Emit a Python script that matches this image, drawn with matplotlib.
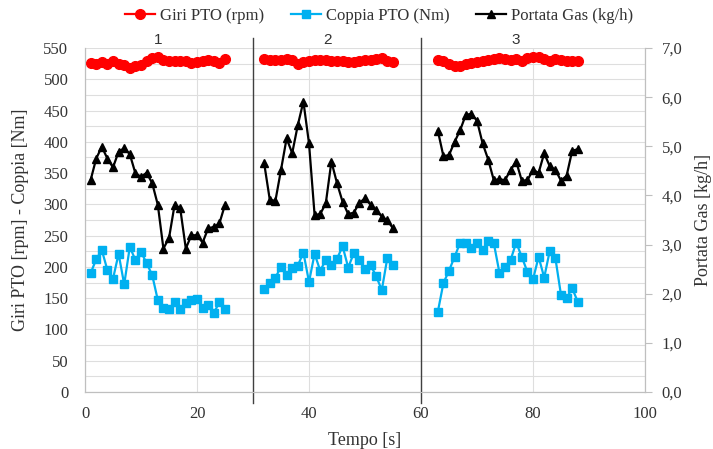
import matplotlib
matplotlib.use("Agg")
import matplotlib.pyplot as plt
from matplotlib.ticker import MultipleLocator, FuncFormatter
from matplotlib.lines import Line2D

# ---------------- data ----------------
time_1 = [1, 2, 3, 4, 5, 6, 7, 8, 9, 10, 11, 12, 13, 14, 15, 16, 17, 18, 19, 20, 21, 22, 23, 24, 25]
time_2 = [32, 33, 34, 35, 36, 37, 38, 39, 40, 41, 42, 43, 44, 45, 46, 47, 48, 49, 50, 51, 52, 53, 54, 55]
time_3 = [63, 64, 65, 66, 67, 68, 69, 70, 71, 72, 73, 74, 75, 76, 77, 78, 79, 80, 81, 82, 83, 84, 85, 86, 87, 88]

giri_1 = [526, 525, 527.5, 525, 529.5, 525, 523, 518, 520.5, 523, 529.5, 534, 535, 531, 529.5,
          529.5, 529.5, 528.5, 526, 527.5, 529.5, 531, 529.5, 526, 533]
giri_2 = [533, 531, 530.5, 531, 533, 531, 524, 527.5, 530, 531, 531, 531, 529.5, 528.5, 528.5,
          527.5, 527.5, 529.5, 531, 531, 533, 534, 529.5, 527.5]
giri_3 = [531, 528.5, 524, 521.5, 522, 524, 526, 527.5, 529.5, 530.5, 533, 534, 532, 531, 533,
          528.5, 534, 535, 535, 533, 528.5, 533, 531, 530, 529.5, 528.5]

coppia_1 = [190, 212, 227, 195, 181, 221, 172, 232, 211, 224, 206, 187, 147, 134, 132, 144, 132,
            143, 147, 148, 134, 139, 126, 144, 132]
coppia_2 = [164, 175, 183, 200, 187, 198, 202, 223, 176, 221, 194, 211, 203, 213, 233, 199, 222,
            211, 196, 203, 185, 163, 215, 203]
coppia_3 = [128, 174, 194, 216, 239, 238, 231, 239, 227, 242, 238, 191, 200, 211, 239, 216, 192,
            180, 216, 183, 226, 214, 155, 150, 166, 144]

gas_1 = [4.31, 4.75, 4.99, 4.75, 4.57, 4.89, 4.96, 4.84, 4.45, 4.38, 4.46, 4.25, 3.81, 2.92, 3.13,
         3.81, 3.74, 2.92, 3.19, 3.19, 3.04, 3.33, 3.36, 3.43, 3.81]
gas_2 = [4.65, 3.91, 3.89, 4.52, 5.16, 4.86, 5.43, 5.91, 5.06, 3.60, 3.62, 3.84, 4.69, 4.25, 3.87,
         3.62, 3.65, 3.85, 3.94, 3.81, 3.70, 3.57, 3.49, 3.33]
gas_3 = [5.32, 4.80, 4.82, 5.09, 5.33, 5.64, 5.66, 5.52, 5.06, 4.73, 4.31, 4.33, 4.31, 4.52, 4.69,
         4.30, 4.31, 4.52, 4.46, 4.86, 4.59, 4.52, 4.30, 4.40, 4.91, 4.94]

series_names = ["Giri PTO (rpm)", "Coppia PTO (Nm)", "Portata Gas (kg/h)"]
section_labels = ["1", "2", "3"]
section_label_x = [13, 43.3, 77]
separator_x = [30, 60]

x_ticks = [0, 20, 40, 60, 80, 100]
left_ticks = [0, 50, 100, 150, 200, 250, 300, 350, 400, 450, 500, 550]
right_ticks = [0, 1, 2, 3, 4, 5, 6, 7]

# ---------------- style ----------------
SERIF = ["Liberation Serif", "DejaVu Serif"]
plt.rcParams["font.family"] = SERIF
RED = "#FF0000"
BLUE = "#00B0F0"
BLACK = "#000000"
GRID = "#DEDEDE"
AXIS = "#BFBFBF"
TEXT = "#333333"

fig = plt.figure(figsize=(7.13, 4.49), dpi=100)
ax = fig.add_axes([85 / 713, 1 - 392 / 449, (645 - 85) / 713, (392 - 48) / 449])
ax2 = ax.twinx()

ax.set_xlim(0, 100)
ax.set_ylim(0, 550)
ax2.set_ylim(0, 7)

ax.set_xticks(x_ticks)
ax.set_yticks(left_ticks)
ax.yaxis.set_minor_locator(MultipleLocator(25))
ax2.set_yticks(right_ticks)
ax2.yaxis.set_major_formatter(FuncFormatter(lambda v, p: f"{v:.1f}".replace(".", ",")))

ax.grid(True, which="major", axis="x", color=GRID, lw=0.8)
ax.grid(True, which="both", axis="y", color=GRID, lw=0.8)
ax.set_axisbelow(True)

for a in (ax, ax2):
    a.spines["top"].set_visible(False)
    a.spines["left"].set_color(AXIS)
    a.spines["bottom"].set_color(AXIS)
    a.spines["right"].set_color(AXIS)

ax.tick_params(axis="both", which="both", length=0, labelsize=12, colors=TEXT)
ax.tick_params(axis="y", pad=12)
ax.tick_params(axis="x", pad=10)
ax2.tick_params(axis="y", length=5, width=0.8, color=AXIS, labelsize=12, pad=7, labelcolor=TEXT)

lw = 1.6
for t, v in ((time_1, coppia_1), (time_2, coppia_2), (time_3, coppia_3)):
    ax.plot(t, v, color=BLUE, lw=lw, marker="s", ms=5.4, mec=BLUE, mfc=BLUE, zorder=3)
for t, v in ((time_1, giri_1), (time_2, giri_2), (time_3, giri_3)):
    ax.plot(t, v, color=RED, lw=lw, marker="o", ms=7, mec=RED, mfc=RED, zorder=3)
for t, v in ((time_1, gas_1), (time_2, gas_2), (time_3, gas_3)):
    ax2.plot(t, v, color=BLACK, lw=lw, marker="^", ms=5.8, mec=BLACK, mfc=BLACK, zorder=3)

for xs in separator_x:
    ax.axvline(xs, ymin=-0.032, ymax=1.03, color="#404040", lw=1.0, clip_on=False, zorder=4)

for lab, xl in zip(section_labels, section_label_x):
    ax.text(xl, 1.022, lab, transform=ax.get_xaxis_transform(), ha="center", va="center",
            fontsize=11, family=["Liberation Sans", "DejaVu Sans"], color=TEXT)

ax.set_xlabel("Tempo [s]", fontsize=13, color=TEXT, labelpad=7)
ax.set_ylabel("Giri PTO [rpm] - Coppia [Nm]", fontsize=13, color=TEXT, labelpad=10)
ax2.set_ylabel("Portata Gas [kg/h]", fontsize=13, color=TEXT, labelpad=9)

handles = [
    Line2D([], [], color=RED, lw=lw, marker="o", ms=7),
    Line2D([], [], color=BLUE, lw=lw, marker="s", ms=5.4),
    Line2D([], [], color=BLACK, lw=lw, marker="^", ms=5.8),
]
fig.legend(handles, series_names, loc="center", bbox_to_anchor=(379 / 713, 1 - 16 / 449), ncol=3,
           frameon=False, fontsize=12, handlelength=1.8, handletextpad=0.3, columnspacing=1.6,
           labelcolor=TEXT)

fig.savefig("out.png", dpi=100)
